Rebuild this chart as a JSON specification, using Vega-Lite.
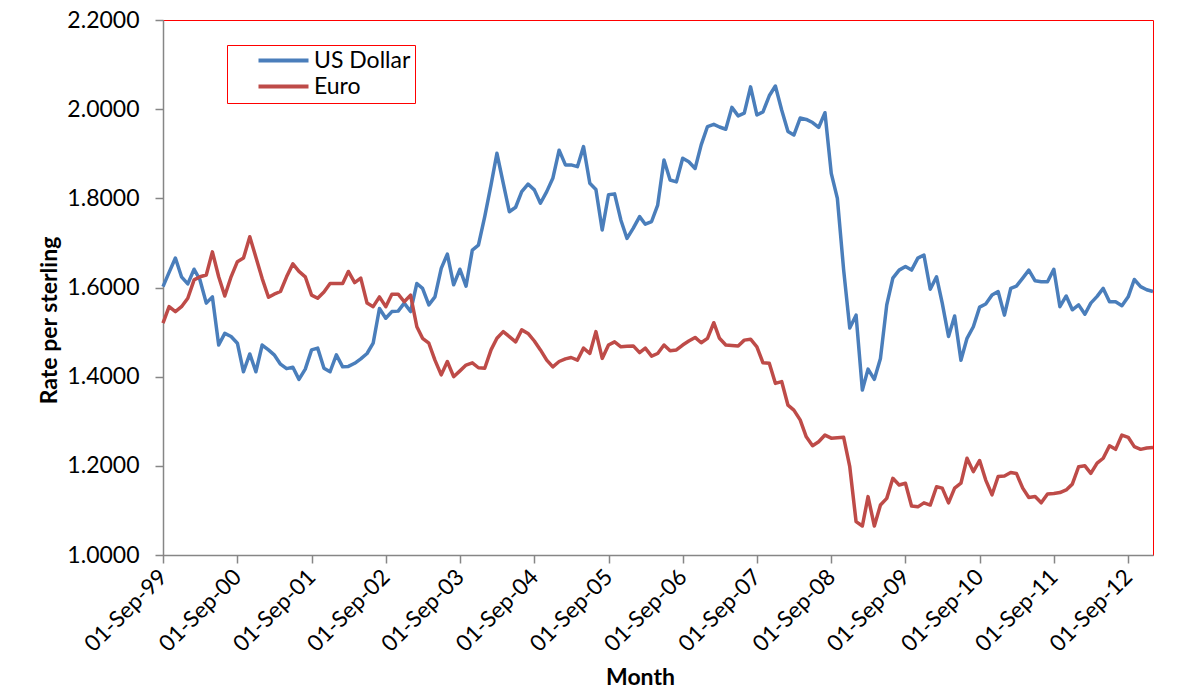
{
  "$schema": "https://vega.github.io/schema/vega-lite/v6.json",
  "width": 990,
  "height": 535,
  "autosize": {"type": "none"},
  "padding": {"left": 163, "top": 20, "right": 49, "bottom": 137},
  "background": "white",
  "config": {
    "font": "Lato",
    "view": {"stroke": "#ff0000", "strokeWidth": 1},
    "axis": {
      "labelFont": "Lato", "labelFontSize": 23, "labelColor": "#000000",
      "titleFont": "Lato", "titleFontSize": 23, "titleFontWeight": "bold", "titleColor": "#000000",
      "domainColor": "#868686", "domainWidth": 1.5, "tickColor": "#868686", "tickWidth": 1.5, "tickSize": 8, "grid": false
    }
  },
  "data": {"values": [
    {"d":"1999-09-01","usd":1.602,"eur":1.520},{"d":"1999-10-01","usd":1.634,"eur":1.557},{"d":"1999-11-01","usd":1.666,"eur":1.546},{"d":"1999-12-01","usd":1.624,"eur":1.557},
    {"d":"2000-01-01","usd":1.608,"eur":1.576},{"d":"2000-02-01","usd":1.641,"eur":1.617},{"d":"2000-03-01","usd":1.617,"eur":1.624},{"d":"2000-04-01","usd":1.565,"eur":1.628},{"d":"2000-05-01","usd":1.579,"eur":1.680},{"d":"2000-06-01","usd":1.471,"eur":1.624},{"d":"2000-07-01","usd":1.497,"eur":1.581},{"d":"2000-08-01","usd":1.490,"eur":1.624},{"d":"2000-09-01","usd":1.475,"eur":1.658},{"d":"2000-10-01","usd":1.411,"eur":1.666},{"d":"2000-11-01","usd":1.451,"eur":1.714},{"d":"2000-12-01","usd":1.411,"eur":1.668},
    {"d":"2001-01-01","usd":1.471,"eur":1.620},{"d":"2001-02-01","usd":1.460,"eur":1.578},{"d":"2001-03-01","usd":1.449,"eur":1.585},{"d":"2001-04-01","usd":1.428,"eur":1.591},{"d":"2001-05-01","usd":1.418,"eur":1.624},{"d":"2001-06-01","usd":1.421,"eur":1.653},{"d":"2001-07-01","usd":1.394,"eur":1.636},{"d":"2001-08-01","usd":1.417,"eur":1.624},{"d":"2001-09-01","usd":1.460,"eur":1.583},{"d":"2001-10-01","usd":1.464,"eur":1.576},{"d":"2001-11-01","usd":1.419,"eur":1.590},{"d":"2001-12-01","usd":1.411,"eur":1.609},
    {"d":"2002-01-01","usd":1.449,"eur":1.609},{"d":"2002-02-01","usd":1.422,"eur":1.609},{"d":"2002-03-01","usd":1.423,"eur":1.636},{"d":"2002-04-01","usd":1.430,"eur":1.611},{"d":"2002-05-01","usd":1.440,"eur":1.621},{"d":"2002-06-01","usd":1.452,"eur":1.565},{"d":"2002-07-01","usd":1.475,"eur":1.557},{"d":"2002-08-01","usd":1.553,"eur":1.579},{"d":"2002-09-01","usd":1.531,"eur":1.557},{"d":"2002-10-01","usd":1.546,"eur":1.585},{"d":"2002-11-01","usd":1.547,"eur":1.585},{"d":"2002-12-01","usd":1.565,"eur":1.568},
    {"d":"2003-01-01","usd":1.546,"eur":1.583},{"d":"2003-02-01","usd":1.609,"eur":1.512},{"d":"2003-03-01","usd":1.598,"eur":1.486},{"d":"2003-04-01","usd":1.561,"eur":1.475},{"d":"2003-05-01","usd":1.579,"eur":1.437},{"d":"2003-06-01","usd":1.643,"eur":1.404},{"d":"2003-07-01","usd":1.675,"eur":1.434},{"d":"2003-08-01","usd":1.606,"eur":1.400},{"d":"2003-09-01","usd":1.641,"eur":1.413},{"d":"2003-10-01","usd":1.603,"eur":1.426},{"d":"2003-11-01","usd":1.684,"eur":1.431},{"d":"2003-12-01","usd":1.695,"eur":1.420},
    {"d":"2004-01-01","usd":1.759,"eur":1.419},{"d":"2004-02-01","usd":1.830,"eur":1.460},{"d":"2004-03-01","usd":1.901,"eur":1.486},{"d":"2004-04-01","usd":1.834,"eur":1.501},{"d":"2004-05-01","usd":1.770,"eur":1.490},{"d":"2004-06-01","usd":1.780,"eur":1.478},{"d":"2004-07-01","usd":1.815,"eur":1.505},{"d":"2004-08-01","usd":1.832,"eur":1.497},{"d":"2004-09-01","usd":1.819,"eur":1.480},{"d":"2004-10-01","usd":1.789,"eur":1.460},{"d":"2004-11-01","usd":1.815,"eur":1.437},{"d":"2004-12-01","usd":1.845,"eur":1.422},
    {"d":"2005-01-01","usd":1.908,"eur":1.434},{"d":"2005-02-01","usd":1.875,"eur":1.440},{"d":"2005-03-01","usd":1.875,"eur":1.443},{"d":"2005-04-01","usd":1.871,"eur":1.437},{"d":"2005-05-01","usd":1.916,"eur":1.464},{"d":"2005-06-01","usd":1.834,"eur":1.452},{"d":"2005-07-01","usd":1.820,"eur":1.501},{"d":"2005-08-01","usd":1.729,"eur":1.441},{"d":"2005-09-01","usd":1.808,"eur":1.471},{"d":"2005-10-01","usd":1.810,"eur":1.478},{"d":"2005-11-01","usd":1.751,"eur":1.467},{"d":"2005-12-01","usd":1.710,"eur":1.468},
    {"d":"2006-01-01","usd":1.733,"eur":1.469},{"d":"2006-02-01","usd":1.759,"eur":1.454},{"d":"2006-03-01","usd":1.742,"eur":1.464},{"d":"2006-04-01","usd":1.748,"eur":1.446},{"d":"2006-05-01","usd":1.785,"eur":1.452},{"d":"2006-06-01","usd":1.886,"eur":1.471},{"d":"2006-07-01","usd":1.841,"eur":1.458},{"d":"2006-08-01","usd":1.837,"eur":1.460},{"d":"2006-09-01","usd":1.890,"eur":1.471},{"d":"2006-10-01","usd":1.882,"eur":1.480},{"d":"2006-11-01","usd":1.867,"eur":1.488},{"d":"2006-12-01","usd":1.920,"eur":1.476},
    {"d":"2007-01-01","usd":1.961,"eur":1.486},{"d":"2007-02-01","usd":1.966,"eur":1.521},{"d":"2007-03-01","usd":1.960,"eur":1.486},{"d":"2007-04-01","usd":1.955,"eur":1.471},{"d":"2007-05-01","usd":2.004,"eur":1.470},{"d":"2007-06-01","usd":1.985,"eur":1.469},{"d":"2007-07-01","usd":1.991,"eur":1.482},{"d":"2007-08-01","usd":2.050,"eur":1.484},{"d":"2007-09-01","usd":1.987,"eur":1.467},{"d":"2007-10-01","usd":1.994,"eur":1.431},{"d":"2007-11-01","usd":2.030,"eur":1.430},{"d":"2007-12-01","usd":2.052,"eur":1.385},
    {"d":"2008-01-01","usd":1.998,"eur":1.389},{"d":"2008-02-01","usd":1.950,"eur":1.336},{"d":"2008-03-01","usd":1.942,"eur":1.325},{"d":"2008-04-01","usd":1.980,"eur":1.303},{"d":"2008-05-01","usd":1.977,"eur":1.265},{"d":"2008-06-01","usd":1.970,"eur":1.245},{"d":"2008-07-01","usd":1.959,"eur":1.254},{"d":"2008-08-01","usd":1.992,"eur":1.269},{"d":"2008-09-01","usd":1.856,"eur":1.262},{"d":"2008-10-01","usd":1.800,"eur":1.263},{"d":"2008-11-01","usd":1.639,"eur":1.264},{"d":"2008-12-01","usd":1.509,"eur":1.198},
    {"d":"2009-01-01","usd":1.538,"eur":1.075},{"d":"2009-02-01","usd":1.370,"eur":1.065},{"d":"2009-03-01","usd":1.417,"eur":1.131},{"d":"2009-04-01","usd":1.394,"eur":1.065},{"d":"2009-05-01","usd":1.441,"eur":1.112},{"d":"2009-06-01","usd":1.561,"eur":1.127},{"d":"2009-07-01","usd":1.621,"eur":1.172},{"d":"2009-08-01","usd":1.639,"eur":1.157},{"d":"2009-09-01","usd":1.647,"eur":1.161},{"d":"2009-10-01","usd":1.639,"eur":1.110},{"d":"2009-11-01","usd":1.666,"eur":1.108},{"d":"2009-12-01","usd":1.673,"eur":1.117},
    {"d":"2010-01-01","usd":1.596,"eur":1.112},{"d":"2010-02-01","usd":1.624,"eur":1.153},{"d":"2010-03-01","usd":1.565,"eur":1.150},{"d":"2010-04-01","usd":1.490,"eur":1.117},{"d":"2010-05-01","usd":1.536,"eur":1.150},{"d":"2010-06-01","usd":1.437,"eur":1.161},{"d":"2010-07-01","usd":1.486,"eur":1.217},{"d":"2010-08-01","usd":1.512,"eur":1.187},{"d":"2010-09-01","usd":1.556,"eur":1.212},{"d":"2010-10-01","usd":1.563,"eur":1.168},{"d":"2010-11-01","usd":1.583,"eur":1.135},{"d":"2010-12-01","usd":1.591,"eur":1.176},
    {"d":"2011-01-01","usd":1.538,"eur":1.177},{"d":"2011-02-01","usd":1.598,"eur":1.185},{"d":"2011-03-01","usd":1.603,"eur":1.183},{"d":"2011-04-01","usd":1.621,"eur":1.150},{"d":"2011-05-01","usd":1.639,"eur":1.129},{"d":"2011-06-01","usd":1.615,"eur":1.131},{"d":"2011-07-01","usd":1.613,"eur":1.117},{"d":"2011-08-01","usd":1.613,"eur":1.137},{"d":"2011-09-01","usd":1.641,"eur":1.138},{"d":"2011-10-01","usd":1.557,"eur":1.140},{"d":"2011-11-01","usd":1.581,"eur":1.146},{"d":"2011-12-01","usd":1.550,"eur":1.159},
    {"d":"2012-01-01","usd":1.561,"eur":1.198},{"d":"2012-02-01","usd":1.540,"eur":1.200},{"d":"2012-03-01","usd":1.565,"eur":1.183},{"d":"2012-04-01","usd":1.580,"eur":1.206},{"d":"2012-05-01","usd":1.598,"eur":1.217},{"d":"2012-06-01","usd":1.568,"eur":1.245},{"d":"2012-07-01","usd":1.568,"eur":1.237},{"d":"2012-08-01","usd":1.559,"eur":1.269},{"d":"2012-09-01","usd":1.579,"eur":1.264},{"d":"2012-10-01","usd":1.618,"eur":1.243},{"d":"2012-11-01","usd":1.602,"eur":1.237},{"d":"2012-12-01","usd":1.595,"eur":1.240},
    {"d":"2013-01-01","usd":1.591,"eur":1.241}
  ]},
  "transform": [{"fold": ["usd", "eur"], "as": ["cur", "rate"]}],
  "mark": {"type": "line", "strokeWidth": 3.5, "strokeJoin": "round"},
  "encoding": {
    "x": {
      "field": "d", "type": "temporal",
      "scale": {"type": "utc", "domain": [{"year": 1999, "month": 9, "date": 1, "utc": true}, {"year": 2013, "month": 1, "date": 1, "utc": true}]},
      "axis": {
        "title": "Month", "format": "%d-%b-%y",
        "values": [
          {"year": 1999, "month": 9, "date": 1, "utc": true}, {"year": 2000, "month": 9, "date": 1, "utc": true},
          {"year": 2001, "month": 9, "date": 1, "utc": true}, {"year": 2002, "month": 9, "date": 1, "utc": true},
          {"year": 2003, "month": 9, "date": 1, "utc": true}, {"year": 2004, "month": 9, "date": 1, "utc": true},
          {"year": 2005, "month": 9, "date": 1, "utc": true}, {"year": 2006, "month": 9, "date": 1, "utc": true},
          {"year": 2007, "month": 9, "date": 1, "utc": true}, {"year": 2008, "month": 9, "date": 1, "utc": true},
          {"year": 2009, "month": 9, "date": 1, "utc": true}, {"year": 2010, "month": 9, "date": 1, "utc": true},
          {"year": 2011, "month": 9, "date": 1, "utc": true}, {"year": 2012, "month": 9, "date": 1, "utc": true}
        ],
        "labelAngle": -45, "labelAlign": "right", "labelBaseline": "middle", "labelPadding": 10, "labelFontSize": 22.5,
        "labelOverlap": false, "labelFlush": false, "titleX": 477, "titlePadding": 11
      }
    },
    "y": {
      "field": "rate", "type": "quantitative",
      "scale": {"domain": [1, 2.2], "nice": false, "zero": false},
      "axis": {
        "title": "Rate per sterling", "format": ".4f", "values": [1, 1.2, 1.4, 1.6, 1.8, 2.0, 2.2],
        "labelPadding": 16, "titlePadding": 5, "titleY": 300
      }
    },
    "color": {
      "field": "cur", "type": "nominal",
      "scale": {"domain": ["usd", "eur"], "range": ["#4a7ebb", "#be4b48"]},
      "legend": {
        "title": null, "orient": "none", "legendX": 64, "legendY": 25,
        "labelExpr": "datum.label == 'usd' ? 'US Dollar' : 'Euro'",
        "symbolType": "M-5,0H5", "symbolSize": 100, "symbolStrokeWidth": 4, "symbolOffset": 41,
        "labelFontSize": 23, "labelFont": "Lato", "labelColor": "#000000", "labelOffset": 19, "labelLimit": 400,
        "rowPadding": 2, "padding": 4, "strokeColor": "#ff0000", "fillColor": "white"
      }
    }
  }
}
